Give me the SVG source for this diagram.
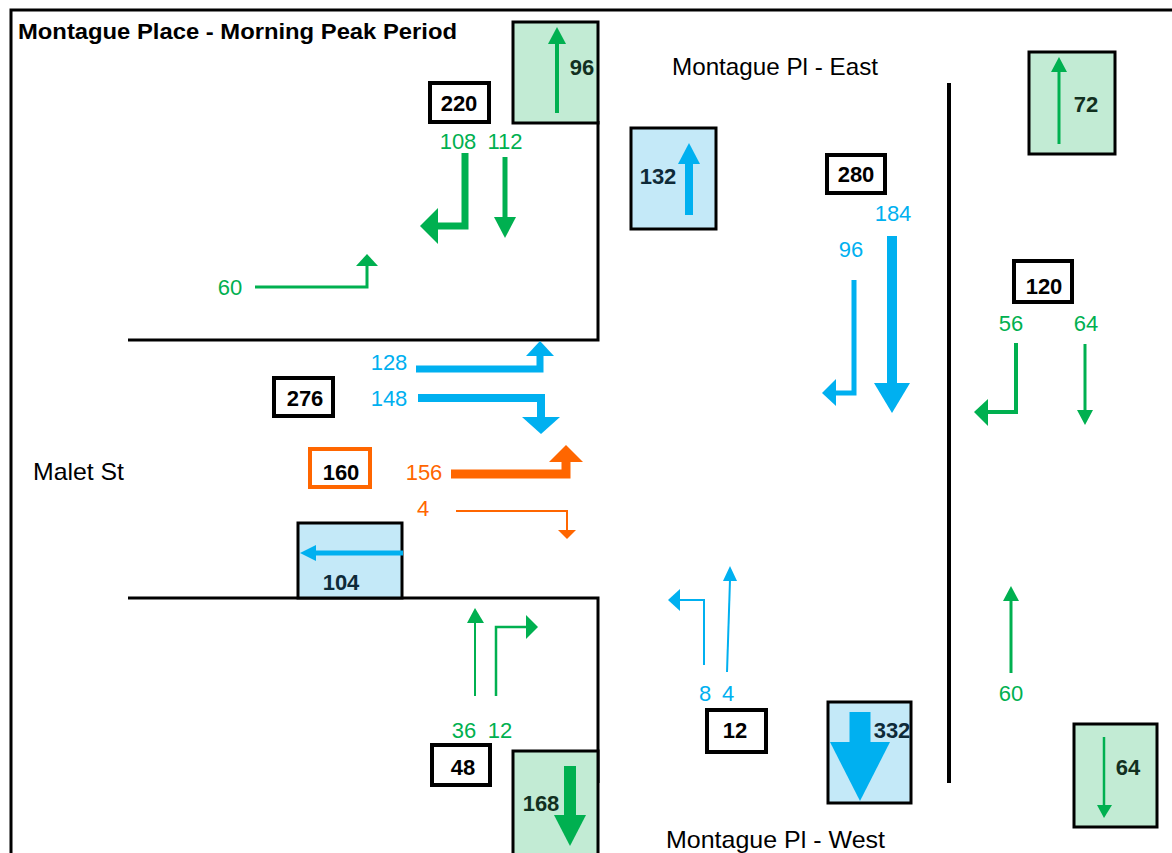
<svg xmlns="http://www.w3.org/2000/svg" width="1172" height="853" viewBox="0 0 1172 853">
<defs>
<style>
.road{fill:none;stroke:#000;stroke-width:3}
.gbox{fill:#C2EBD4;stroke:#000;stroke-width:3}
.bbox{fill:#C4E9F8;stroke:#000;stroke-width:3}
.wbox{fill:#fff;stroke:#000;stroke-width:4}
.obox{fill:#fff;stroke:#FF6600;stroke-width:4}
.g{stroke:#00B050;fill:none}
.gh{fill:#00B050}
.b{stroke:#00B0F0;fill:none}
.bh{fill:#00B0F0}
.o{stroke:#FF6600;fill:none}
.oh{fill:#FF6600}
.bt{font-family:"Liberation Sans",Arial,sans-serif;font-weight:bold;font-size:22px;text-anchor:middle}
.lt{font-family:"Liberation Sans",Arial,sans-serif;font-size:22px;text-anchor:middle}
.name{font-family:"Liberation Sans",Arial,sans-serif;font-size:24px;fill:#000}
.gt{fill:#00B050}
.btc{fill:#00B0F0}
.ot{fill:#FF6600}
.dg{fill:#12301F}
.db{fill:#0E2A38}
</style>
</defs>
<rect width="1172" height="853" fill="#fff"/>
<g id="frame">
<path d="M11,853 V10 H1172" fill="none" stroke="#000" stroke-width="3"/>
</g>
<text id="title" x="18" y="39" font-family="'Liberation Sans',Arial,sans-serif" font-weight="bold" font-size="22" textLength="439" lengthAdjust="spacingAndGlyphs">Montague Place - Morning Peak Period</text>
<g id="roads">
<path class="road" d="M128,340 H598 V121"/>
<path class="road" d="M128,598 H598 V783"/>
<path d="M949,83 V783" fill="none" stroke="#000" stroke-width="4"/>
</g>
<g id="street-names">
<text class="name" x="672" y="75" textLength="206" lengthAdjust="spacingAndGlyphs">Montague Pl - East</text>
<text class="name" x="33" y="480" textLength="91" lengthAdjust="spacingAndGlyphs">Malet St</text>
<text class="name" x="666" y="848" textLength="219" lengthAdjust="spacingAndGlyphs">Montague Pl - West</text>
</g>
<g id="node-96"><rect class="gbox" x="513" y="22" width="85" height="101"/><text class="bt dg" x="582" y="75">96</text></g>
<g id="node-72"><rect class="gbox" x="1029" y="52" width="86" height="102"/><text class="bt dg" x="1086" y="112">72</text></g>
<g id="node-132"><rect class="bbox" x="631" y="128" width="85" height="101"/><text class="bt db" x="658" y="184">132</text></g>
<g id="node-104"><rect class="bbox" x="298" y="523" width="104" height="75"/><text class="bt db" x="341" y="590">104</text></g>
<g id="node-168"><rect class="gbox" x="513" y="751" width="85" height="110"/><text class="bt dg" x="541" y="811">168</text></g>
<g id="node-332"><rect class="bbox" x="828" y="702" width="83" height="101"/></g>
<g id="node-64b"><rect class="gbox" x="1074" y="724" width="83" height="103"/><text class="bt dg" x="1128" y="775">64</text></g>
<g id="node-220"><rect class="wbox" x="430" y="83" width="59" height="39"/><text class="bt" x="459" y="111">220</text></g>
<g id="node-280"><rect class="wbox" x="827" y="155" width="58" height="38"/><text class="bt" x="856" y="182">280</text></g>
<g id="node-120"><rect class="wbox" x="1014" y="261" width="58" height="41"/><text class="bt" x="1044" y="294">120</text></g>
<g id="node-276"><rect class="wbox" x="274" y="378" width="59" height="38"/><text class="bt" x="305" y="406">276</text></g>
<g id="node-160"><rect class="obox" x="310" y="449" width="60" height="38"/><text class="bt" x="341" y="480">160</text></g>
<g id="node-48"><rect class="wbox" x="432" y="745" width="58" height="40"/><text class="bt" x="463" y="775">48</text></g>
<g id="node-12"><rect class="wbox" x="707" y="710" width="59" height="42"/><text class="bt" x="735" y="738">12</text></g>
<g id="connectors">
<path class="g" stroke-width="4" d="M557,113 V42"/><polygon class="gh" points="557,27 548,44 566,44"/>
<path class="g" stroke-width="3" d="M1059,144 V70"/><polygon class="gh" points="1059,57 1051,72 1067,72"/>
<path class="g" stroke-width="7" d="M465,153 V226 H436"/><polygon class="gh" points="420,226 438,208 438,244"/>
<path class="g" stroke-width="5" d="M505,157 V218"/><polygon class="gh" points="505,238 494,217 516,217"/>
<path class="g" stroke-width="3" d="M255,287 H367 V265"/><polygon class="gh" points="367,254 356,266 378,266"/>
<path class="g" stroke-width="4" d="M1016,343 V412 H987"/><polygon class="gh" points="974,412 988,399 988,426"/>
<path class="g" stroke-width="3" d="M1085,344 V411"/><polygon class="gh" points="1085,425 1077,410 1093,410"/>
<path class="g" stroke-width="2" d="M475,696 V622"/><polygon class="gh" points="475,608 467,623 484,623"/>
<path class="g" stroke-width="2.5" d="M496,696 V627 H527"/><polygon class="gh" points="538,627 526,615 526,639"/>
<path class="g" stroke-width="12" d="M570,766 V816"/><polygon class="gh" points="570,846 554,815 586,815"/>
<path class="g" stroke-width="3" d="M1011,673 V600"/><polygon class="gh" points="1011,586 1003,601 1019,601"/>
<path class="g" stroke-width="2.5" d="M1104,737 V806"/><polygon class="gh" points="1104,818 1097,805 1112,805"/>
<path class="b" stroke-width="8" d="M689,215 V162"/><polygon class="bh" points="689,143 678,164 700,164"/>
<path class="b" stroke-width="10" d="M892,236 V384"/><polygon class="bh" points="892,413 874,383 910,383"/>
<path class="b" stroke-width="5" d="M854,280 V393 H835"/><polygon class="bh" points="822,393 836,379 836,406"/>
<path class="b" stroke-width="7" d="M416,369 H540 V355"/><polygon class="bh" points="540,341 526,356 554,356"/>
<path class="b" stroke-width="8" d="M418,398 H541 V418"/><polygon class="bh" points="541,434 522,417 560,417"/>
<path class="b" stroke-width="5" d="M403,553 H315"/><polygon class="bh" points="300,553 316,545 316,561"/>
<path class="b" stroke-width="2" d="M704,665 V600 H679"/><polygon class="bh" points="668,600 680,589 680,611"/>
<path class="b" stroke-width="2" d="M727,672 L730,580"/><polygon class="bh" points="730,566 723,581 737,581"/>
<path class="b" stroke-width="21" d="M860,712 V743"/><polygon class="bh" points="860,801 830,742 890,742"/>
<path class="o" stroke-width="9" d="M451,474 H566 V460"/><polygon class="oh" points="566,445 549,462 583,462"/>
<path class="o" stroke-width="2" d="M456,511 H567 V531"/><polygon class="oh" points="567,539 558,530 576,530"/>
</g>
<g id="volume-labels">
<text class="lt gt" x="458" y="149">108</text>
<text class="lt gt" x="505" y="149">112</text>
<text class="lt gt" x="230" y="295">60</text>
<text class="lt btc" x="893" y="221">184</text>
<text class="lt btc" x="851" y="257">96</text>
<text class="lt gt" x="1011" y="331">56</text>
<text class="lt gt" x="1086" y="331">64</text>
<text class="lt btc" x="389" y="370">128</text>
<text class="lt btc" x="389" y="406">148</text>
<text class="lt ot" x="424" y="480">156</text>
<text class="lt ot" x="423" y="516">4</text>
<text class="lt gt" x="464" y="738">36</text>
<text class="lt gt" x="500" y="738">12</text>
<text class="lt btc" x="705" y="701">8</text>
<text class="lt btc" x="728" y="701">4</text>
<text class="lt gt" x="1011" y="701">60</text>
</g>
<g id="node-332-label"><text class="bt db" x="892" y="738">332</text></g>
</svg>
